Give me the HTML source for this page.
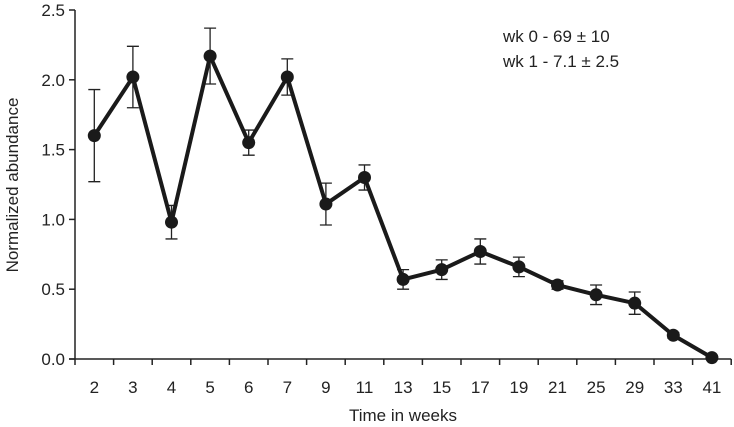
<!DOCTYPE html>
<html><head><meta charset="utf-8"><style>
html,body{margin:0;padding:0;background:#fff;}
svg{display:block;font-family:"Liberation Sans",Arial,sans-serif;}
</style></head><body>
<svg id="chart" width="734" height="427"></svg>
<script>
const categories=["2","3","4","5","6","7","9","11","13","15","17","19","21","25","29","33","41"];
const values=[1.60,2.02,0.98,2.17,1.55,2.02,1.11,1.30,0.57,0.64,0.77,0.66,0.53,0.46,0.40,0.17,0.01];
const errors=[0.33,0.22,0.12,0.20,0.09,0.13,0.15,0.09,0.07,0.07,0.09,0.07,0.03,0.07,0.08,0.02,0.0];
const yTicks=[0,0.5,1.0,1.5,2.0,2.5];
const NS="http://www.w3.org/2000/svg";
const svg=document.getElementById('chart');
const x0=75,y0=359,band=38.6,yTop=10;
function xs(i){return x0+band*(i+0.5);}
function ys(v){return y0-(v/2.5)*(y0-yTop);}
function mk(t,a){const e=document.createElementNS(NS,t);for(const k in a)e.setAttribute(k,a[k]);svg.appendChild(e);return e;}
let e;
e=mk('line',{x1:x0,y1:yTop,x2:x0,y2:y0,stroke:'#222','stroke-width':1.5});


e=mk('line',{x1:x0-6,y1:y0,x2:x0+band*categories.length,y2:y0,stroke:'#222','stroke-width':1.5});


yTicks.forEach(v=>{
 e=mk('line',{x1:x0-6,y1:ys(v),x2:x0,y2:ys(v),stroke:'#222','stroke-width':1.5});
 
 
 e=mk('text',{x:x0-10,y:ys(v)+6,'text-anchor':'end','font-size':17,fill:'#222'});
 e.textContent=v.toFixed(1);
 
 
});
for(let i=0;i<=categories.length;i++){
 e=mk('line',{x1:x0+band*i,y1:y0,x2:x0+band*i,y2:y0+6,stroke:'#222','stroke-width':1.5});
 
 
}
categories.forEach((c,i)=>{
 e=mk('text',{x:xs(i),y:393,'text-anchor':'middle','font-size':17,fill:'#222'});
 e.textContent=c;
 
 
});
e=mk('text',{x:(x0+731)/2,y:421,'text-anchor':'middle','font-size':17,fill:'#222'});
e.textContent='Time in weeks';


e=mk('text',{x:0,y:0,'text-anchor':'middle','font-size':17,fill:'#222',transform:'translate(18,185) rotate(-90)'});
e.textContent='Normalized abundance';


values.forEach((v,i)=>{
 const er=errors[i];if(er<=0)return;
 const x=xs(i);
 e=mk('path',{d:`M${x},${ys(v-er)}V${ys(v+er)}M${x-6},${ys(v-er)}H${x+6}M${x-6},${ys(v+er)}H${x+6}`,stroke:'#222','stroke-width':1.3,fill:'none'});
 
 
});
e=mk('polyline',{points:values.map((v,i)=>xs(i)+','+ys(v)).join(' '),fill:'none',stroke:'#1a1a1a','stroke-width':4,'stroke-linejoin':'round'});


values.forEach((v,i)=>{
 e=mk('circle',{cx:xs(i),cy:ys(v),r:6.5,fill:'#1a1a1a'});
 
 
});
["wk 0 - 69 \u00b1 10","wk 1 - 7.1 \u00b1 2.5"].forEach((t,i)=>{
 e=mk('text',{x:503,y:42+i*25,'font-size':17,fill:'#222'});
 e.textContent=t;
 
 
});
</script>
</body></html>
